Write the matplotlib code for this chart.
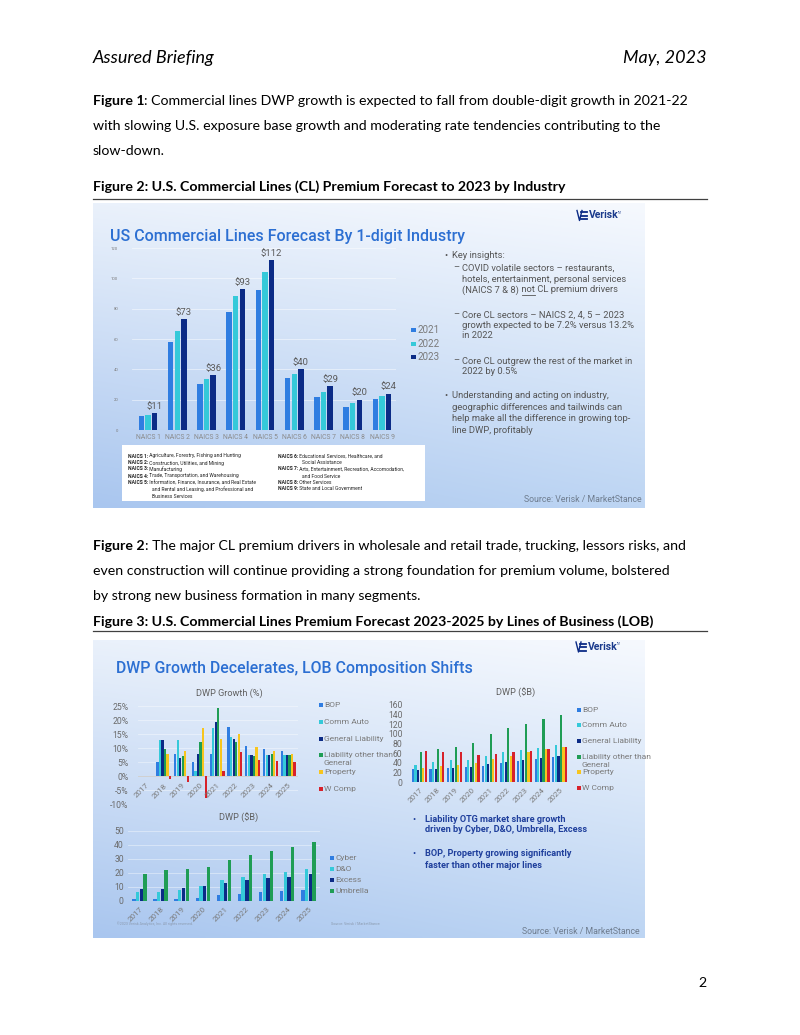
import numpy as np
import matplotlib
matplotlib.use("Agg")
import matplotlib.pyplot as plt
from matplotlib.patches import Rectangle
from matplotlib.lines import Line2D

# ---------------- data ----------------
naics = ["NAICS 1", "NAICS 2", "NAICS 3", "NAICS 4", "NAICS 5",
         "NAICS 6", "NAICS 7", "NAICS 8", "NAICS 9"]
cl_2021 = [9, 58, 30.6, 78, 92, 34, 21.8, 15.4, 20.3]
cl_2022 = [10.1, 65.4, 33.9, 88.5, 104, 37.2, 25.3, 17.6, 22.5]
cl_2023 = [11, 73, 36, 93, 112, 40, 29, 20, 24]
cl_years = ["2021", "2022", "2023"]

years = ["2017", "2018", "2019", "2020", "2021", "2022", "2023", "2024", "2025"]
lob_names = ["BOP", "Comm Auto", "General Liability",
             "Liability other than\nGeneral", "Property", "W Comp"]
g_bop = [np.nan, 5.0, 7.9, 5.0, 8.0, 17.6, 10.6, 9.6, 8.9]
g_auto = [np.nan, 13.0, 12.9, 1.9, 17.1, 13.8, 7.5, 7.5, 7.5]
g_gl = [np.nan, 12.9, 6.5, 8.0, 19.3, 13.1, 7.5, 7.5, 7.4]
g_lotg = [np.nan, 9.5, 7.0, 12.3, 24.2, 12.3, 7.1, 7.9, 7.4]
g_prop = [np.nan, 7.9, 8.8, 17.0, 13.3, 14.9, 10.5, 8.9, 8.0]
g_wc = [np.nan, -1.0, -2.0, -8.0, 1.7, 8.5, 5.7, 5.2, 5.0]

dwp_bop = [26, 28, 30, 32, 34, 39, 44, 48, 52]
dwp_auto = [35, 41.5, 46, 46, 54, 62, 67, 71, 77]
dwp_gl = [24, 28, 30, 32, 38, 41.5, 46, 50, 53]
dwp_lotg = [62, 68, 73, 82, 100, 112, 121, 131, 140]
dwp_prop = [30, 32.5, 36, 40, 47, 55, 63, 68, 73]
dwp_wc = [64, 63, 62, 56, 58, 62, 65, 69, 73]

spec_names = ["Cyber", "D&O", "Excess", "Umbrella"]
cyber = [1.2, 1.2, 1.2, 1.9, 3.8, 5.0, 6.0, 6.9, 7.9]
dno = [6.2, 6.0, 7.4, 10.5, 14.8, 17.0, 18.8, 20.7, 22.6]
excess = [8.1, 8.6, 9.3, 10.5, 12.9, 14.8, 16.2, 17.1, 19.0]
umbrella = [19, 22, 23, 24, 28.8, 32.9, 35.7, 38.6, 41.7]

# ---------------- styles ----------------
C_BLUE = "#2f7de1"
C_CYAN = "#35c9d9"
C_NAVY = "#0b2b86"
C_GREEN = "#1f9d55"
C_YELLOW = "#f7c51e"
C_RED = "#d7212b"
GRAY = "#7a7a7a"
SLIDE = "Roboto"
PAGE = "Lato"

W, H = 800, 1035
fig = plt.figure(figsize=(W / 100, H / 100), dpi=100)
fig.patch.set_facecolor("white")
renderer = fig.canvas.get_renderer()


def fx(x):
    return x / W


def fy(y):
    return 1 - y / H


def T(x, y, s, **kw):
    return fig.text(fx(x), fy(y), s, **kw)


def ax_px(x0, y0, x1, y1):
    return fig.add_axes([x0 / W, 1 - y1 / H, (x1 - x0) / W, (y1 - y0) / H])


def hline(x0, x1, y, **kw):
    fig.add_artist(Line2D([fx(x0), fx(x1)], [fy(y), fy(y)],
                          transform=fig.transFigure, **kw))


def runs(x, y, parts, **kw):
    cur = x
    out = []
    for s, props in parts:
        k = dict(kw)
        k.update(props)
        t = T(cur, y, s, ha="left", **k)
        w = t.get_window_extent(renderer).width
        out.append((cur, cur + w))
        cur += w
    return out


def gradient_bg(x0, y0, x1, y1, tl, tr, bl, br):
    ax = ax_px(x0, y0, x1, y1)
    ny, nx = 120, 60
    tt = np.linspace(0, 1, ny)[:, None, None]
    ss = np.linspace(0, 1, nx)[None, :, None]
    c = lambda h: np.array(matplotlib.colors.to_rgb(h))[None, None, :]
    img = (1 - tt) * ((1 - ss) * c(tl) + ss * c(tr)) + tt * ((1 - ss) * c(bl) + ss * c(br))
    ax.imshow(img, extent=[0, 1, 0, 1], aspect="auto", interpolation="bilinear")
    ax.set_xlim(0, 1)
    ax.set_ylim(0, 1)
    ax.axis("off")
    return ax


def verisk(x, y):
    # small logo: icon + wordmark
    for dy in (-3.5, 0, 3.5):
        hline(x + 4, x + 10, y + dy, color=C_NAVY, lw=1.3)
    fig.add_artist(Line2D([fx(x), fx(x + 2.5), fx(x + 5)],
                          [fy(y - 5), fy(y + 5), fy(y - 5)],
                          transform=fig.transFigure, color=C_NAVY, lw=1.0))
    T(x + 12, y, "Verisk", fontsize=7.5, family=SLIDE, weight="bold",
      color="#1a3a8c", va="center", ha="left")
    T(x + 41, y - 3, "TM", fontsize=1.8, family=SLIDE,
      color="#1a3a8c", va="center", ha="left")


def style_axes(ax):
    ax.patch.set_alpha(0)
    for sp in ax.spines.values():
        sp.set_visible(False)
    ax.tick_params(length=0)


def legend_px(x, ys, names, colors, size=6.2, sq=4):
    for y, n, c in zip(ys, names, colors):
        fig.add_artist(Rectangle((fx(x), fy(y + sq / 2)), sq / W, sq / H,
                                 transform=fig.transFigure, color=c, lw=0))
        lines = n.split("\n")
        for j, ln in enumerate(lines):
            T(x + sq + 1.5, y + j * 8, ln, fontsize=size, family=SLIDE, color=GRAY,
              va="center", ha="left")


# ---------------- page text ----------------
BODY = 10.15
T(93, 58, "Assured Briefing", fontsize=13, family=PAGE, style="italic",
  va="center", ha="left")
T(707, 58, "May, 2023", fontsize=13, family=PAGE, style="italic",
  va="center", ha="right")

runs(93, 101, [("Figure 1", {"weight": "bold"}),
               (": Commercial lines DWP growth is expected to fall from double-digit growth in 2021-22", {})],
     fontsize=BODY, family=PAGE, va="center")
T(93, 126, "with slowing U.S. exposure base growth and moderating rate tendencies contributing to the",
  fontsize=BODY, family=PAGE, va="center")
T(93, 151, "slow-down.", fontsize=BODY, family=PAGE, va="center")

T(93, 187, "Figure 2: U.S. Commercial Lines (CL) Premium Forecast to 2023 by Industry",
  fontsize=BODY, family=PAGE, weight="bold", va="center")
hline(93, 707, 198.5, color="#404040", lw=0.9)

runs(93, 546, [("Figure 2", {"weight": "bold"}),
               (": The major CL premium drivers in wholesale and retail trade, trucking, lessors risks, and", {})],
     fontsize=BODY, family=PAGE, va="center")
T(93, 571, "even construction will continue providing a strong foundation for premium volume, bolstered",
  fontsize=BODY, family=PAGE, va="center")
T(93, 596, "by strong new business formation in many segments.",
  fontsize=BODY, family=PAGE, va="center")

T(93, 622, "Figure 3: U.S. Commercial Lines Premium Forecast 2023-2025 by Lines of Business (LOB)",
  fontsize=BODY, family=PAGE, weight="bold", va="center")
hline(93, 707, 630.5, color="#404040", lw=0.9)

T(707, 983, "2", fontsize=BODY, family=PAGE, va="center", ha="right")

# ---------------- slide 1 (Figure 2) ----------------
gradient_bg(93, 203, 645, 508, "#eaf1fb", "#f6f9fe", "#a9c6ef", "#bdd5f3")
T(110, 236, "US Commercial Lines Forecast By 1-digit Industry", fontsize=11.55,
  family=SLIDE, weight="medium", color="#2c6fd2", va="center", ha="left")
verisk(577, 215.5)

ax1 = ax_px(132, 248, 396, 430)
style_axes(ax1)
x = np.arange(len(naics))
sp1, bw1 = 0.228, 0.185
for i, (vals, c) in enumerate(zip([cl_2021, cl_2022, cl_2023], [C_BLUE, C_CYAN, C_NAVY])):
    ax1.bar(x + (i - 1) * sp1, vals, width=bw1, color=c, zorder=3)
for xi, v in zip(x, cl_2023):
    ax1.annotate(f"${v:g}", (xi + sp1, v), xytext=(0, 1.5), textcoords="offset points",
                 ha="center", va="bottom", fontsize=6.8, family=SLIDE, color="#5a5a5a")
ax1.set_xlim(-0.547, 8.479)
ax1.set_ylim(0, 120)
ax1.set_yticks(range(0, 121, 20))
ax1.set_yticklabels([str(v) for v in range(0, 121, 20)], fontsize=3, color=GRAY, family=SLIDE)
ax1.tick_params(axis="y", pad=10)
ax1.set_xticks(x)
ax1.set_xticklabels(naics, fontsize=4.9, color="#8a8a8a", family=SLIDE)
ax1.tick_params(axis="x", pad=3)
ax1.grid(axis="y", color="white", alpha=0.55, lw=0.6, zorder=0)
ax1.axhline(0, color="#c8c8c8", lw=0.8, zorder=2)

legend_px(411, [330, 344, 357], cl_years, [C_BLUE, C_CYAN, C_NAVY], size=7, sq=4.5)

# insights text
KS = 6.75
KC = "#555555"
T(444, 256, "\u2022", fontsize=KS, family=SLIDE, color=KC, va="center")
T(452, 256, "Key insights:", fontsize=KS, family=SLIDE, color=KC, va="center")
for y in (268, 315, 361):
    T(453, y, "\u2013", fontsize=KS, family=SLIDE, color=KC, va="center")
T(462, 268, "COVID volatile sectors \u2013 restaurants,", fontsize=KS, family=SLIDE, color=KC, va="center")
T(462, 279, "hotels, entertainment, personal services", fontsize=KS, family=SLIDE, color=KC, va="center")
seg = runs(462, 290, [("(NAICS 7 & 8)", {}), (" not", {}), (" CL premium drivers", {})],
           fontsize=KS, family=SLIDE, color=KC, va="center")
sw = seg[1][1] - seg[1][0]
hline(seg[1][1] - sw * 0.78, seg[1][1], 295, color=KC, lw=0.6)
T(462, 315, "Core CL sectors \u2013 NAICS 2, 4, 5 \u2013 2023", fontsize=KS, family=SLIDE, color=KC, va="center")
T(462, 326, "growth expected to be 7.2% versus 13.2%", fontsize=KS, family=SLIDE, color=KC, va="center")
T(462, 336, "in 2022", fontsize=KS, family=SLIDE, color=KC, va="center")
T(462, 361, "Core CL outgrew the rest of the market in", fontsize=KS, family=SLIDE, color=KC, va="center")
T(462, 372, "2022 by 0.5%", fontsize=KS, family=SLIDE, color=KC, va="center")
T(444, 396, "\u2022", fontsize=KS, family=SLIDE, color=KC, va="center")
T(452, 396, "Understanding and acting on industry,", fontsize=KS, family=SLIDE, color=KC, va="center")
T(452, 408, "geographic differences and tailwinds can", fontsize=KS, family=SLIDE, color=KC, va="center")
T(452, 419, "help make all the difference in growing top-", fontsize=KS, family=SLIDE, color=KC, va="center")
T(452, 430, "line DWP, profitably", fontsize=KS, family=SLIDE, color=KC, va="center")

# NAICS description box
fig.add_artist(Rectangle((fx(122), fy(501)), (425 - 122) / W, (501 - 445) / H,
                         transform=fig.transFigure, color="white", lw=0, zorder=1))
NS = 3.6
left_rows = [(456, "NAICS 1:", " Agriculture, Forestry, Fishing and Hunting"),
             (463, "NAICS 2:", " Construction, Utilities, and Mining"),
             (469, "NAICS 3:", " Manufacturing"),
             (476, "NAICS 4:", " Trade, Transportation, and Warehousing"),
             (483, "NAICS 5:", " Information, Finance, Insurance, and Real Estate")]
right_rows = [(456, "NAICS 6:", " Educational Services, Healthcare, and"),
              (469, "NAICS 7:", " Arts, Entertainment, Recreation, Accomodation,"),
              (483, "NAICS 8:", " Other Services"),
              (489, "NAICS 9:", " State and Local Government")]
for xx, rows in ((128, left_rows), (278, right_rows)):
    for y, b, r in rows:
        runs(xx, y, [(b, {"weight": "bold"}), (r, {})], fontsize=NS, family=SLIDE,
             color="#222222", va="center", zorder=2)
for xx, y, s in ((152, 489, "and Rental and Leasing, and Professional and"),
                 (152, 496, "Business Services"),
                 (302, 463, "Social Assistance"),
                 (302, 476, "and Food Service")):
    T(xx, y, s, fontsize=NS, family=SLIDE, color="#222222", va="center", zorder=2)

T(642, 500, "Source: Verisk / MarketStance", fontsize=6.3, family=SLIDE,
  color="#6f7d8f", va="center", ha="right")

# ---------------- slide 2 (Figure 3) ----------------
gradient_bg(93, 640, 645, 938, "#eaf1fb", "#f6f9fe", "#a9c6ef", "#bdd5f3")
T(116, 669, "DWP Growth Decelerates, LOB Composition Shifts", fontsize=11.4,
  family=SLIDE, weight="medium", color="#2c6fd2", va="center", ha="left")
verisk(576, 647)

lob_colors = [C_BLUE, C_CYAN, C_NAVY, C_GREEN, C_YELLOW, C_RED]
xs = np.arange(len(years))


def year_labels(ax, ybase, off_pts):
    for xi, yr in zip(xs, years):
        ax.annotate(yr, (xi + 0.12, ybase), xytext=(0, -off_pts), textcoords="offset points",
                    rotation=45, rotation_mode="anchor", ha="right", va="center",
                    fontsize=5.8, family=SLIDE, color="#7a7a7a")


# chart A: DWP growth
axA = ax_px(138, 706, 298, 804)
style_axes(axA)
spA, bwA = 0.142, 0.125
for i, (vals, c) in enumerate(zip([g_bop, g_auto, g_gl, g_lotg, g_prop, g_wc], lob_colors)):
    axA.bar(xs + (i - 2.5) * spA, vals, width=bwA, color=c, zorder=3)
axA.set_xlim(-0.45, 8.55)
axA.set_ylim(-10, 25)
axA.set_yticks(range(-10, 26, 5))
axA.set_yticklabels([f"{v}%" for v in range(-10, 26, 5)], fontsize=6.2, color="#6a6a6a", family=SLIDE)
axA.tick_params(axis="y", pad=7)
axA.set_xticks([])
axA.grid(axis="y", color="white", alpha=0.45, lw=0.6, zorder=0)
axA.axhline(0, color="#d0d0d0", lw=0.7, zorder=2)
year_labels(axA, 0, 6)
T(229, 693, "DWP Growth (%)", fontsize=6.6, family=SLIDE, color="#606060", va="center", ha="center")
legend_px(319, [705, 722, 739, 755, 772, 789], lob_names, lob_colors, size=6.0, sq=3.5)

# chart B: DWP ($B)
axB = ax_px(408, 705, 572, 782)
style_axes(axB)
spB, bwB = 0.145, 0.128
for i, (vals, c) in enumerate(zip([dwp_bop, dwp_auto, dwp_gl, dwp_lotg, dwp_prop, dwp_wc], lob_colors)):
    axB.bar(xs + (i - 2.5) * spB, vals, width=bwB, color=c, zorder=3)
axB.set_xlim(-0.65, 8.7)
axB.set_ylim(0, 160)
axB.set_yticks(range(0, 161, 20))
axB.set_yticklabels([str(v) for v in range(0, 161, 20)], fontsize=6.2, color="#6a6a6a", family=SLIDE)
axB.tick_params(axis="y", pad=4)
axB.set_xticks([])
axB.axhline(0, color="#d0d0d0", lw=0.7, zorder=2)
year_labels(axB, 0, 5)
T(516, 693, "DWP ($B)", fontsize=6.6, family=SLIDE, color="#606060", va="center", ha="center")
legend_px(577, [710, 725, 741, 757, 772, 788], lob_names, lob_colors, size=6.0, sq=3.5)

# chart C: specialty DWP ($B)
axC = ax_px(128, 830.7, 320, 900.7)
style_axes(axC)
spC, bwC = 0.175, 0.16
for i, (vals, c) in enumerate(zip([cyber, dno, excess, umbrella], [C_BLUE, C_CYAN, C_NAVY, C_GREEN])):
    axC.bar(xs + (i - 1.5) * spC, vals, width=bwC, color=c, zorder=3)
axC.set_xlim(-0.54, 8.55)
axC.set_ylim(0, 50)
axC.set_yticks(range(0, 51, 10))
axC.set_yticklabels([str(v) for v in range(0, 51, 10)], fontsize=6.2, color="#6a6a6a", family=SLIDE)
axC.tick_params(axis="y", pad=3)
axC.set_xticks([])
axC.grid(axis="y", color="white", alpha=0.45, lw=0.6, zorder=0)
axC.axhline(0, color="#d0d0d0", lw=0.7, zorder=2)
year_labels(axC, 0, 5)
T(239, 818, "DWP ($B)", fontsize=6.6, family=SLIDE, color="#606060", va="center", ha="center")
legend_px(330, [858, 869, 880, 891], spec_names, [C_BLUE, C_CYAN, C_NAVY, C_GREEN], size=6.0, sq=3.5)

# bullets
BC = "#1f3f9c"
for y in (819, 854):
    T(412, y, "\u2022", fontsize=6.6, family=SLIDE, color=BC, va="center")
for y, s in ((819, "Liability OTG market share growth"),
             (830, "driven by Cyber, D&O, Umbrella, Excess"),
             (854, "BOP, Property growing significantly"),
             (865, "faster than other major lines")):
    T(425, y, s, fontsize=6.6, family=SLIDE, weight="bold", color=BC, va="center")

T(117, 924, "\u00a92023 Verisk Analytics, Inc. All rights reserved.", fontsize=2.6,
  family=SLIDE, color="#8c9bb0", va="center")
T(380, 924, "Source: Verisk / MarketStance", fontsize=2.6, family=SLIDE,
  color="#8c9bb0", va="center", ha="right")
T(640, 931, "Source: Verisk / MarketStance", fontsize=6.3, family=SLIDE,
  color="#6f7d8f", va="center", ha="right")

fig.savefig("out.png", dpi=100, facecolor="white")
